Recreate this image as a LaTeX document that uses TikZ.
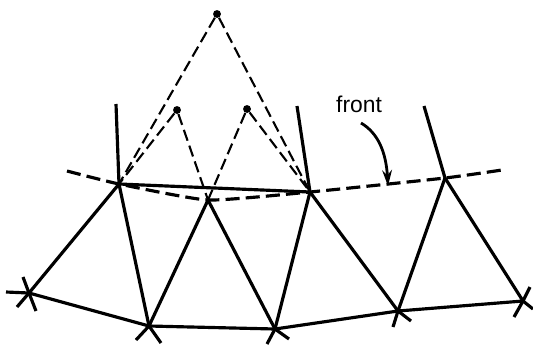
\documentclass[tikz,border=0pt]{standalone}
\usepackage{fontspec}
\setmainfont{Liberation Sans}
\usetikzlibrary{arrows.meta}
\tikzset{
  mesh/.style={line width=1.8pt, black},
  front/.style={line width=1.8pt, black, dash pattern=on 8pt off 3.5pt},
  ahead/.style={line width=1.2pt, black, dash pattern=on 6.5pt off 3pt},
  apex/.style={circle, fill=black, inner sep=0pt, minimum size=4.5pt},
  vtx/.style={coordinate},
}
\begin{document}
\begin{tikzpicture}[x=0.02cm, y=-0.02cm, every node/.style={font=\fontsize{13}{15}\selectfont}]
  \useasboundingbox (0,0) rectangle (533,345);
  % Front vertices
  \node[vtx] (a1) at (119,184) {};
  \node[vtx] (a2) at (208,200) {};
  \node[vtx] (a3) at (310,192) {};
  \node[vtx] (a4) at (445,178) {};
  % Vertices of the lower row
  \node[vtx] (b1) at (29,293) {};
  \node[vtx] (b2) at (149,326) {};
  \node[vtx] (b3) at (275,329) {};
  \node[vtx] (b4) at (398,311) {};
  \node[vtx] (b5) at (523,301) {};
  % Ends of the front
  \node[vtx] (fl) at (67,171) {};
  \node[vtx] (fr) at (502,170) {};
  % Candidate points ahead of the front
  \node[apex] (top) at (217,14) {};
  \node[apex] (pl) at (177,110) {};
  \node[apex] (pr) at (247,109) {};
  % Triangles
  \draw[mesh] (b1) -- (b2) -- (b3) -- (b4) -- (b5);
  \draw[mesh] (a1) -- (a3);
  \foreach \p/\q in {a1/b1, a1/b2, a2/b2, a2/b3, a3/b3, a3/b4, a4/b4, a4/b5}
    \draw[mesh] (\p) -- (\q);
  % Edges leaving the front upwards
  \foreach \p/\x/\y in {a1/116/104, a3/297/106, a4/424/106}
    \draw[mesh] (\p) -- (\x,\y);
  % Short stubs at the lower row
  \foreach \p/\x/\y in {b1/6/292, b1/23/277, b1/36/311, b1/17/307,
                        b2/136/340, b2/161/343, b3/267/344, b3/289/339,
                        b4/393/327, b4/411/321, b5/530/287, b5/514/317, b5/533/309}
    \draw[mesh] (\p) -- (\x,\y);
  % Front line
  \draw[front] plot[smooth, tension=0.3] coordinates {(fl) (a1) (a2) (a3) (a4) (fr)};
  % Dashed edges to the candidates
  \foreach \p/\q in {top/a1, top/a3, pl/a1, pl/a2, pr/a2, pr/a3}
    \draw[ahead] (\p) -- (\q);
  % Label
  \node (lab) at (359,104) {front};
  \node[vtx] (tail) at (361,123) {};
  \node[vtx] (tip) at (388,186) {};
  \draw[line width=1.6pt, black, -{Stealth[length=9pt, width=5.5pt]}] (tail) .. controls (378,133) and (386,152) .. (tip);
\end{tikzpicture}
\end{document}
